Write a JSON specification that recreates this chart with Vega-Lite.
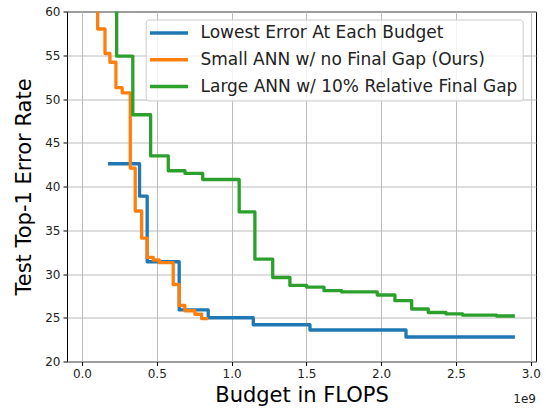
{
  "$schema": "https://vega.github.io/schema/vega-lite/v6.json",
  "width": 469,
  "height": 350,
  "autosize": {"type": "none"},
  "padding": {"left": 67, "top": 11.5, "right": 10, "bottom": 46.5},
  "background": "white",
  "title": {"text": "1e9", "orient": "bottom", "anchor": "end", "frame": "group", "offset": -12, "fontSize": 12, "font": "DejaVu Sans", "fontWeight": "normal", "color": "#222"},
  "data": {"values": [
    {"series": "Lowest Error At Each Budget", "flops": 174000000, "error": 42.6},
    {"series": "Lowest Error At Each Budget", "flops": 385000000, "error": 38.9},
    {"series": "Lowest Error At Each Budget", "flops": 436000000, "error": 31.4},
    {"series": "Lowest Error At Each Budget", "flops": 650000000, "error": 25.9},
    {"series": "Lowest Error At Each Budget", "flops": 844000000, "error": 25.0},
    {"series": "Lowest Error At Each Budget", "flops": 1145000000, "error": 24.2},
    {"series": "Lowest Error At Each Budget", "flops": 1524000000, "error": 23.6},
    {"series": "Lowest Error At Each Budget", "flops": 2166000000, "error": 22.8},
    {"series": "Lowest Error At Each Budget", "flops": 2894000000, "error": 22.8},
    {"series": "Small ANN w/ no Final Gap (Ours)", "flops": 100000000, "error": 66.0},
    {"series": "Small ANN w/ no Final Gap (Ours)", "flops": 105000000, "error": 58.0},
    {"series": "Small ANN w/ no Final Gap (Ours)", "flops": 154000000, "error": 55.2},
    {"series": "Small ANN w/ no Final Gap (Ours)", "flops": 187000000, "error": 54.2},
    {"series": "Small ANN w/ no Final Gap (Ours)", "flops": 227000000, "error": 51.3},
    {"series": "Small ANN w/ no Final Gap (Ours)", "flops": 269000000, "error": 50.7},
    {"series": "Small ANN w/ no Final Gap (Ours)", "flops": 323000000, "error": 42.1},
    {"series": "Small ANN w/ no Final Gap (Ours)", "flops": 356000000, "error": 37.2},
    {"series": "Small ANN w/ no Final Gap (Ours)", "flops": 399000000, "error": 34.1},
    {"series": "Small ANN w/ no Final Gap (Ours)", "flops": 436000000, "error": 31.9},
    {"series": "Small ANN w/ no Final Gap (Ours)", "flops": 477000000, "error": 31.6},
    {"series": "Small ANN w/ no Final Gap (Ours)", "flops": 517000000, "error": 31.3},
    {"series": "Small ANN w/ no Final Gap (Ours)", "flops": 610000000, "error": 28.8},
    {"series": "Small ANN w/ no Final Gap (Ours)", "flops": 650000000, "error": 26.4},
    {"series": "Small ANN w/ no Final Gap (Ours)", "flops": 688000000, "error": 25.8},
    {"series": "Small ANN w/ no Final Gap (Ours)", "flops": 755000000, "error": 25.4},
    {"series": "Small ANN w/ no Final Gap (Ours)", "flops": 800000000, "error": 24.9},
    {"series": "Small ANN w/ no Final Gap (Ours)", "flops": 844000000, "error": 24.9},
    {"series": "Large ANN w/ 10% Relative Final Gap", "flops": 225000000, "error": 66.0},
    {"series": "Large ANN w/ 10% Relative Final Gap", "flops": 232000000, "error": 54.9},
    {"series": "Large ANN w/ 10% Relative Final Gap", "flops": 340000000, "error": 48.2},
    {"series": "Large ANN w/ 10% Relative Final Gap", "flops": 459000000, "error": 43.5},
    {"series": "Large ANN w/ 10% Relative Final Gap", "flops": 577000000, "error": 41.8},
    {"series": "Large ANN w/ 10% Relative Final Gap", "flops": 689000000, "error": 41.5},
    {"series": "Large ANN w/ 10% Relative Final Gap", "flops": 807000000, "error": 40.8},
    {"series": "Large ANN w/ 10% Relative Final Gap", "flops": 1051000000, "error": 37.1},
    {"series": "Large ANN w/ 10% Relative Final Gap", "flops": 1156000000, "error": 31.7},
    {"series": "Large ANN w/ 10% Relative Final Gap", "flops": 1275000000, "error": 29.6},
    {"series": "Large ANN w/ 10% Relative Final Gap", "flops": 1390000000, "error": 28.7},
    {"series": "Large ANN w/ 10% Relative Final Gap", "flops": 1502000000, "error": 28.5},
    {"series": "Large ANN w/ 10% Relative Final Gap", "flops": 1618000000, "error": 28.1},
    {"series": "Large ANN w/ 10% Relative Final Gap", "flops": 1736000000, "error": 27.95},
    {"series": "Large ANN w/ 10% Relative Final Gap", "flops": 1974000000, "error": 27.6},
    {"series": "Large ANN w/ 10% Relative Final Gap", "flops": 2092000000, "error": 26.95},
    {"series": "Large ANN w/ 10% Relative Final Gap", "flops": 2204000000, "error": 26.0},
    {"series": "Large ANN w/ 10% Relative Final Gap", "flops": 2315000000, "error": 25.6},
    {"series": "Large ANN w/ 10% Relative Final Gap", "flops": 2433000000, "error": 25.45},
    {"series": "Large ANN w/ 10% Relative Final Gap", "flops": 2545000000, "error": 25.3},
    {"series": "Large ANN w/ 10% Relative Final Gap", "flops": 2772000000, "error": 25.2},
    {"series": "Large ANN w/ 10% Relative Final Gap", "flops": 2894000000, "error": 25.2}
  ]},
  "encoding": {
    "x": {
      "field": "flops", "type": "quantitative", "title": "Budget in FLOPS",
      "scale": {"domain": [-100000000, 3035000000], "nice": false, "zero": false},
      "axis": {"values": [0, 500000000, 1000000000, 1500000000, 2000000000, 2500000000, 3000000000], "labelExpr": "format(datum.value / 1e9, '.1f')", "labelFlush": false, "labelOverlap": false, "titlePadding": 5}
    },
    "y": {
      "field": "error", "type": "quantitative", "title": "Test Top-1 Error Rate",
      "scale": {"domain": [20, 60], "nice": false, "zero": false},
      "axis": {"values": [20, 25, 30, 35, 40, 45, 50, 55, 60], "labelFlush": false, "labelOverlap": false, "titlePadding": 10}
    },
    "color": {
      "field": "series", "type": "nominal",
      "scale": {
        "domain": ["Lowest Error At Each Budget", "Small ANN w/ no Final Gap (Ours)", "Large ANN w/ 10% Relative Final Gap"],
        "range": ["#1f77b4", "#ff7f0e", "#2ca02c"]
      },
      "legend": {
        "title": null, "orient": "none", "legendX": 78.7, "legendY": 8,
        "symbolType": "M-2.923,0H2.923", "symbolSize": 169, "symbolStrokeWidth": 3.5,
        "symbolOffset": 9.8, "labelOffset": 23, "rowPadding": 8.8, "padding": 5,
        "labelFontSize": 17, "labelFont": "DejaVu Sans", "labelColor": "#222", "labelLimit": 500,
        "fillColor": "rgba(255,255,255,0.8)", "strokeColor": "#cccccc", "cornerRadius": 3
      }
    }
  },
  "layer": [
    {"transform": [{"filter": "datum.series === 'Lowest Error At Each Budget'"}],
     "mark": {"type": "line", "interpolate": "step-after", "strokeWidth": 3.3, "clip": true, "strokeJoin": "round"}},
    {"transform": [{"filter": "datum.series === 'Small ANN w/ no Final Gap (Ours)'"}],
     "mark": {"type": "line", "interpolate": "step-after", "strokeWidth": 3.3, "clip": true, "strokeJoin": "round"}},
    {"transform": [{"filter": "datum.series === 'Large ANN w/ 10% Relative Final Gap'"}],
     "mark": {"type": "line", "interpolate": "step-after", "strokeWidth": 3.3, "clip": true, "strokeJoin": "round"}}
  ],
  "config": {
    "font": "DejaVu Sans",
    "view": {"stroke": "#000", "strokeWidth": 1},
    "axis": {
      "domain": false, "grid": true, "gridColor": "#bcbcbc", "gridWidth": 1,
      "ticks": true, "tickColor": "#000", "tickSize": 4, "tickWidth": 1,
      "labelFont": "DejaVu Sans", "labelFontSize": 12, "labelColor": "#222", "labelPadding": 3,
      "titleFont": "DejaVu Sans", "titleFontSize": 21, "titleFontWeight": "normal", "titleColor": "#000"
    }
  }
}
